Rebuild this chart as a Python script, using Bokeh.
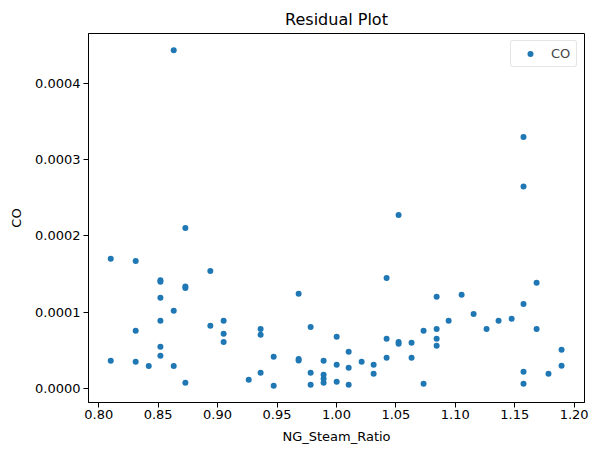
from bokeh.plotting import figure
from bokeh.models import ColumnDataSource, FixedTicker, PrintfTickFormatter, Range1d
from bokeh.embed import file_html
from bokeh.resources import INLINE

# NG/steam ratio and CO residuals
ng_steam_ratio = [
    0.8631, 0.8101, 0.8311, 0.8729, 0.8939, 0.8519, 0.8519, 0.8729, 0.8729, 0.8519,
    0.8631, 0.8519, 0.9051, 0.8939, 0.8311, 0.9051, 0.9051, 0.8519, 0.8519, 0.8101,
    0.8311, 0.8421, 0.8631, 0.8729, 0.9262, 0.9362, 0.9362, 0.9362, 1.0523, 1.0422,
    0.9682, 0.9783, 1.0002, 1.0422, 1.0523, 1.0523, 1.0632, 1.0733, 0.9472, 0.9682,
    0.9682, 0.9892, 1.0103, 1.0002, 1.0103, 1.0212, 1.0313, 1.0313, 1.0422, 1.0632,
    0.9783, 0.9892, 0.9892, 0.9892, 0.9472, 0.9783, 1.0002, 1.0103, 1.0733, 1.0843,
    1.1053, 1.0944, 1.1154, 1.0843, 1.0843, 1.0843, 1.1263, 1.1364, 1.1474, 1.1574,
    1.1684, 1.1684, 1.1894, 1.1894, 1.1574, 1.1574, 1.1784, 1.1574, 1.1574,
]
co_e4 = [
    4.43, 1.70, 1.673, 2.105, 1.542, 1.42, 1.40, 1.337, 1.32, 1.19,
    1.02, 0.889, 0.889, 0.824, 0.758, 0.719, 0.614, 0.549, 0.431, 0.366,
    0.353, 0.30, 0.30, 0.078, 0.118, 0.784, 0.706, 0.209, 2.275, 1.451,
    1.242, 0.810, 0.680, 0.654, 0.614, 0.588, 0.601, 0.758, 0.418, 0.39,
    0.37, 0.366, 0.484, 0.314, 0.275, 0.353, 0.314, 0.196, 0.405, 0.405,
    0.209, 0.183, 0.131, 0.078, 0.039, 0.052, 0.092, 0.052, 0.065, 1.203,
    1.229, 0.889, 0.980, 0.784, 0.654, 0.562, 0.784, 0.889, 0.915, 1.111,
    1.386, 0.784, 0.510, 0.301, 0.222, 0.065, 0.196, 3.294, 2.645,
]
co = [v * 1e-4 for v in co_e4]

x_ticks = [0.80, 0.85, 0.90, 0.95, 1.00, 1.05, 1.10, 1.15, 1.20]
y_ticks = [0.0, 0.0001, 0.0002, 0.0003, 0.0004]

FONT = "DejaVu Sans"
BLUE = "#1f77b4"

src = ColumnDataSource(data=dict(x=ng_steam_ratio, y=co))

p = figure(
    width=598, height=455,
    output_backend="svg", toolbar_location=None,
    title="Residual Plot",
    x_range=Range1d(0.7914, 1.2087),
    y_range=Range1d(-0.0000179, 0.0004648),
    min_border_left=88, min_border_right=14,
    min_border_top=33, min_border_bottom=53,
)
p.background_fill_color = "white"
p.border_fill_color = "white"
p.grid.visible = False
p.outline_line_color = "black"
p.outline_line_width = 1

p.title.align = "center"
p.title.text_font = FONT
p.title.text_font_size = "16px"
p.title.text_font_style = "normal"
p.title.text_color = "black"
p.title.offset = 0

p.scatter("x", "y", source=src, size=6, color=BLUE, line_color=None, legend_label="CO")

for ax in (p.xaxis[0], p.yaxis[0]):
    ax.major_label_text_font = FONT
    ax.major_label_text_font_size = "13px"
    ax.major_label_text_color = "black"
    ax.axis_label_text_font = FONT
    ax.axis_label_text_font_size = "13px"
    ax.axis_label_text_font_style = "normal"
    ax.axis_label_text_color = "black"
    ax.major_tick_in = 0
    ax.major_tick_out = 5
    ax.minor_tick_line_color = None
    ax.axis_line_color = "black"
    ax.major_tick_line_color = "black"

p.xaxis.ticker = FixedTicker(ticks=x_ticks)
p.xaxis.formatter = PrintfTickFormatter(format="%.2f")
p.xaxis.axis_label = "NG_Steam_Ratio"
p.xaxis.major_label_standoff = 2
p.xaxis.axis_label_standoff = 7

p.yaxis.ticker = FixedTicker(ticks=y_ticks)
p.yaxis.formatter = PrintfTickFormatter(format="%.4f")
p.yaxis.axis_label = "CO"
p.yaxis.major_label_standoff = 3
p.yaxis.axis_label_standoff = 8

lg = p.legend[0]
lg.location = "top_right"
lg.margin = 7
lg.padding = 5
lg.border_line_color = "#cccccc"
lg.border_line_width = 1
lg.label_text_font = FONT
lg.label_text_font_size = "13px"
lg.glyph_width = 28
lg.glyph_height = 15
lg.label_height = 15
lg.label_standoff = 7
lg.spacing = 0
if "border_radius" in lg.properties():
    lg.border_radius = 3

open("out.html", "w").write(file_html(p, INLINE))
